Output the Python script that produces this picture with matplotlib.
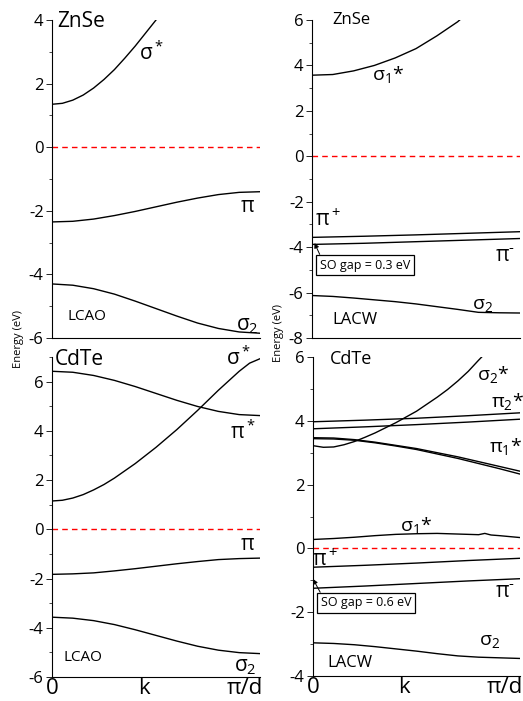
import matplotlib
matplotlib.use("Agg")
import matplotlib.pyplot as plt

plt.rcParams['font.family'] = ['Open Sans', 'DejaVu Sans']
plt.rcParams['mathtext.default'] = 'regular'
plt.rcParams['axes.unicode_minus'] = False

# k en fracao de pi/d
k = [0, 0.1, 0.2, 0.3, 0.4, 0.5, 0.6, 0.7, 0.8, 0.9, 1.0]
k5 = [0, 0.25, 0.5, 0.75, 1.0]

# ZnSe LCAO
znse_lcao_k_sig = [0, 0.05, 0.1, 0.15, 0.2, 0.25, 0.3, 0.35, 0.4, 0.45, 0.5]
znse_lcao_sig_star = [1.35, 1.38, 1.48, 1.64, 1.86, 2.13, 2.44, 2.80, 3.18, 3.59, 4.0]
znse_lcao_pi = [-2.35, -2.33, -2.26, -2.15, -2.02, -1.875, -1.73, -1.60, -1.49, -1.42, -1.40]
znse_lcao_sig2 = [-4.30, -4.34, -4.45, -4.62, -4.84, -5.075, -5.31, -5.53, -5.70, -5.81, -5.85]

# ZnSe LACW
znse_lacw_k_sig = [0, 0.1, 0.2, 0.3, 0.4, 0.5, 0.6, 0.7, 0.71]
znse_lacw_sig1_star = [3.57, 3.60, 3.76, 4.0, 4.33, 4.74, 5.30, 5.92, 6.0]
znse_lacw_pi_plus = [-3.57, -3.52, -3.46, -3.39, -3.32]
znse_lacw_pi_minus = [-3.88, -3.83, -3.76, -3.69, -3.62]
znse_lacw_sig2 = [-6.13, -6.17, -6.24, -6.32, -6.40, -6.50, -6.62, -6.74, -6.87, -6.89, -6.90]

# CdTe LCAO
cdte_lcao_k_sig = [0, 0.05, 0.1, 0.15, 0.2, 0.25, 0.3, 0.4, 0.5, 0.6, 0.7, 0.8, 0.9, 0.95, 1.0]
cdte_lcao_sig_star = [1.15, 1.18, 1.27, 1.41, 1.60, 1.82, 2.08, 2.67, 3.33, 4.05, 4.83, 5.65, 6.42, 6.75, 6.93]
cdte_lcao_pi_star = [6.42, 6.38, 6.25, 6.05, 5.80, 5.52, 5.24, 4.99, 4.79, 4.66, 4.62]
cdte_lcao_pi = [-1.83, -1.81, -1.77, -1.69, -1.60, -1.50, -1.40, -1.31, -1.23, -1.19, -1.17]
cdte_lcao_sig2 = [-3.57, -3.61, -3.71, -3.87, -4.08, -4.31, -4.54, -4.75, -4.91, -5.01, -5.05]

# CdTe LACW
cdte_lacw_k_sig2s = [0, 0.05, 0.1, 0.15, 0.2, 0.25, 0.3, 0.35, 0.4, 0.45, 0.5, 0.55, 0.6, 0.65, 0.7, 0.75, 0.8, 0.815]
cdte_lacw_sig2_star = [3.22, 3.17, 3.18, 3.25, 3.35, 3.48, 3.62, 3.78, 3.94, 4.12, 4.30, 4.52, 4.74, 4.98, 5.25, 5.55, 5.90, 6.0]
cdte_lacw_pi2_star_a = [3.97, 4.02, 4.08, 4.16, 4.25]
cdte_lacw_pi2_star_b = [3.75, 3.81, 3.88, 3.96, 4.05]
cdte_lacw_pi1_star_a = [3.47, 3.46, 3.41, 3.33, 3.23, 3.13, 3.00, 2.87, 2.72, 2.57, 2.42]
cdte_lacw_pi1_star_b = [3.44, 3.43, 3.39, 3.31, 3.21, 3.10, 2.96, 2.82, 2.66, 2.50, 2.33]
cdte_lacw_k_sig1 = [0, 0.1, 0.2, 0.3, 0.4, 0.5, 0.6, 0.7, 0.8, 0.83, 0.86, 0.9, 1.0]
cdte_lacw_sig1_star = [0.28, 0.31, 0.35, 0.40, 0.44, 0.46, 0.47, 0.45, 0.43, 0.47, 0.42, 0.40, 0.34]
cdte_lacw_pi_plus = [-0.59, -0.53, -0.46, -0.38, -0.31]
cdte_lacw_pi_minus = [-1.25, -1.18, -1.10, -1.02, -0.95]
cdte_lacw_sig2 = [-2.96, -2.98, -3.02, -3.08, -3.15, -3.22, -3.30, -3.37, -3.41, -3.43, -3.45]

xtick_pos = [0, 0.44, 0.925]
xtick_txt = ["0", "k", "π/d"]

W, H = 523, 701
fig = plt.figure(figsize=(W / 100, H / 100), dpi=100)


def eixo(x0, x1, ytop, ybot, ylim, yticks, bottom_labels):
    ax = fig.add_axes([x0 / W, 1 - ybot / H, (x1 - x0) / W, (ybot - ytop) / H])
    ax.set_xlim(0, 1)
    ax.set_ylim(*ylim)
    ax.spines['top'].set_visible(False)
    ax.spines['right'].set_visible(False)
    ax.spines['left'].set_linewidth(0.8)
    ax.spines['bottom'].set_linewidth(0.8)
    ax.set_yticks(yticks)
    ax.set_yticks(range(ylim[0], ylim[1] + 1), minor=True)
    ax.tick_params(axis='y', which='major', length=4, width=0.6, labelsize=12, pad=2)
    ax.tick_params(axis='y', which='minor', length=2, width=0.5)
    if bottom_labels:
        ax.set_xticks(xtick_pos)
        ax.set_xticklabels(xtick_txt, fontsize=16)
        ax.tick_params(axis='x', length=0, pad=1)
    else:
        ax.set_xticks([])
    ax.axhline(0, color='red', ls=(0, (4, 3)), lw=1)
    return ax


def caixa(ax, texto, xy, xytext):
    ax.annotate(texto, xy=xy, xytext=xytext,
                fontsize=9, ha='center', va='center',
                bbox=dict(boxstyle='square,pad=0.3', fc='white', ec='black', lw=0.9),
                arrowprops=dict(arrowstyle='-|>', color='black', lw=0.7,
                                mutation_scale=7, relpos=(0.02, 1.0), shrinkA=0, shrinkB=0))


lw = 1.0
pi_menos = "π$^{‐}$"

# ---- ZnSe LCAO
ax1 = eixo(52, 260, 20, 338, (-6, 4), [-6, -4, -2, 0, 2, 4], False)
ax1.plot(znse_lcao_k_sig, znse_lcao_sig_star, 'k', lw=lw)
ax1.plot(k, znse_lcao_pi, 'k', lw=lw)
ax1.plot(k, znse_lcao_sig2, 'k', lw=lw)
ax1.text(0.025, 3.95, "ZnSe", fontsize=15, va='center')
ax1.text(0.48, 2.96, "$σ^*$", fontsize=15, ha='center', va='center')
ax1.text(0.94, -1.85, "π", fontsize=15, ha='center', va='center')
ax1.text(0.17, -5.31, "LCAO", fontsize=11, ha='center', va='center')
ax1.text(0.94, -5.62, "$σ_2$", fontsize=15, ha='center', va='center')

# ---- ZnSe LACW
ax2 = eixo(312, 520, 20, 338, (-8, 6), [-8, -6, -4, -2, 0, 2, 4, 6], False)
ax2.plot(znse_lacw_k_sig, znse_lacw_sig1_star, 'k', lw=lw)
ax2.plot(k5, znse_lacw_pi_plus, 'k', lw=lw)
ax2.plot(k5, znse_lacw_pi_minus, 'k', lw=lw)
ax2.plot(k, znse_lacw_sig2, 'k', lw=lw)
ax2.text(0.096, 6.0, "ZnSe", fontsize=12, va='center')
ax2.text(0.365, 3.58, "$σ_1$*", fontsize=14, ha='center', va='center')
ax2.text(0.077, -2.81, "$π^+$", fontsize=15, ha='center', va='center')
ax2.text(0.93, -4.4, pi_menos, fontsize=15, ha='center', va='center')
ax2.text(0.82, -6.56, "$σ_2$", fontsize=14, ha='center', va='center')
ax2.text(0.207, -7.22, "LACW", fontsize=12, ha='center', va='center')
caixa(ax2, "SO gap = 0.3 eV", (0.012, -3.82), (0.255, -4.79))

# ---- CdTe LCAO
ax3 = eixo(52, 260, 357, 677, (-6, 7), [-6, -4, -2, 0, 2, 4, 6], True)
ax3.plot(cdte_lcao_k_sig, cdte_lcao_sig_star, 'k', lw=lw)
ax3.plot(k, cdte_lcao_pi_star, 'k', lw=lw)
ax3.plot(k, cdte_lcao_pi, 'k', lw=lw)
ax3.plot(k, cdte_lcao_sig2, 'k', lw=lw)
ax3.text(0.014, 6.89, "CdTe", fontsize=15, va='center')
ax3.text(0.895, 6.95, "$σ^*$", fontsize=15, ha='center', va='center')
ax3.text(0.92, 3.93, "$π^*$", fontsize=15, ha='center', va='center')
ax3.text(0.94, -0.63, "π", fontsize=15, ha='center', va='center')
ax3.text(0.15, -5.22, "LCAO", fontsize=11, ha='center', va='center')
ax3.text(0.93, -5.59, "$σ_2$", fontsize=15, ha='center', va='center')

# ---- CdTe LACW
ax4 = eixo(313, 520, 357, 676, (-4, 6), [-4, -2, 0, 2, 4, 6], True)
ax4.plot(cdte_lacw_k_sig2s, cdte_lacw_sig2_star, 'k', lw=lw)
ax4.plot(k5, cdte_lacw_pi2_star_a, 'k', lw=lw)
ax4.plot(k5, cdte_lacw_pi2_star_b, 'k', lw=lw)
ax4.plot(k, cdte_lacw_pi1_star_a, 'k', lw=lw)
ax4.plot(k, cdte_lacw_pi1_star_b, 'k', lw=lw)
ax4.plot(cdte_lacw_k_sig1, cdte_lacw_sig1_star, 'k', lw=lw)
ax4.plot(k5, cdte_lacw_pi_plus, 'k', lw=lw)
ax4.plot(k5, cdte_lacw_pi_minus, 'k', lw=lw)
ax4.plot(k, cdte_lacw_sig2, 'k', lw=lw)
ax4.text(0.082, 5.94, "CdTe", fontsize=13, va='center')
ax4.text(0.87, 5.44, "$σ_2$*", fontsize=14, ha='center', va='center')
ax4.text(0.94, 4.62, "$π_2$*", fontsize=14, ha='center', va='center')
ax4.text(0.93, 3.21, "$π_1$*", fontsize=14, ha='center', va='center')
ax4.text(0.50, 0.73, "$σ_1$*", fontsize=14, ha='center', va='center')
ax4.text(0.058, -0.36, "$π^+$", fontsize=15, ha='center', va='center')
ax4.text(0.93, -1.37, pi_menos, fontsize=15, ha='center', va='center')
ax4.text(0.855, -2.9, "$σ_2$", fontsize=14, ha='center', va='center')
ax4.text(0.18, -3.59, "LACW", fontsize=12, ha='center', va='center')
caixa(ax4, "SO gap = 0.6 eV", (0.0, -0.96), (0.256, -1.71))

fig.text(18 / W, 1 - 339 / H, "Energy (eV)", rotation=90, fontsize=8, ha='center', va='center')
fig.text(278 / W, 1 - 333 / H, "Energy (eV)", rotation=90, fontsize=8, ha='center', va='center')

plt.savefig("out.png", dpi=100)
plt.close("all")
